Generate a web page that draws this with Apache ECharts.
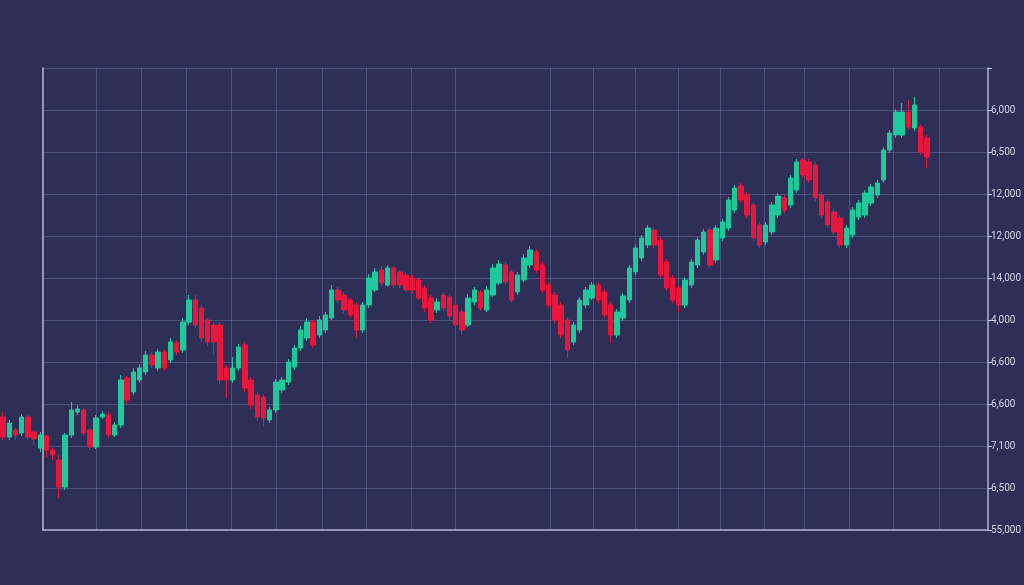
<!DOCTYPE html>
<html><head><meta charset="utf-8">
<script src="https://cdn.jsdelivr.net/npm/echarts@6/dist/echarts.min.js"></script>
<style>html,body{margin:0;padding:0;background:#2d2f56;}#c{width:1024px;height:585px;}</style>
</head><body><div id="c"></div>
<script>
const categories = Array.from({length: 160}, (_, i) => 'D' + (i + 1));

const openVals = [
  113, 93, 100, 97, 113, 98, 82, 94, 80, 70,
  43, 95, 118, 120, 100, 83, 113, 115, 95, 105,
  152, 138, 150, 158, 175, 162, 178, 170, 187, 180,
  208, 230, 222, 210, 205, 205, 162, 150, 162, 185,
  150, 135, 133, 110, 120, 140, 148, 163, 182, 192,
  208, 195, 200, 212, 240, 235, 230, 225, 200, 225,
  240, 260, 245, 262, 258, 255, 252, 250, 242, 232,
  220, 235, 233, 225, 218, 205, 228, 238, 220, 235,
  247, 265, 258, 238, 250, 265, 278, 265, 245, 235,
  225, 210, 188, 200, 225, 232, 245, 238, 225, 195,
  212, 230, 258, 272, 285, 300, 290, 268, 252, 242,
  225, 245, 265, 278, 300, 270, 292, 302, 320, 344,
  335, 325, 305, 288, 298, 315, 332, 325, 340, 370,
  368, 365, 335, 328, 318, 312, 285, 295, 313, 315,
  327, 335, 350, 380, 395, 395, 418, 402, 403, 392
];
const closeVals = [
  93, 107, 95, 113, 93, 91, 95, 80, 75, 43,
  95, 120, 121, 97, 83, 112, 116, 95, 105, 150,
  130, 158, 162, 175, 165, 178, 162, 188, 178, 208,
  230, 205, 192, 188, 188, 150, 150, 162, 183, 142,
  125, 113, 112, 120, 148, 150, 168, 182, 200, 208,
  185, 210, 215, 240, 230, 220, 215, 200, 225, 252,
  258, 247, 262, 245, 245, 240, 240, 232, 222, 210,
  228, 222, 214, 205, 200, 232, 240, 222, 240, 262,
  266, 248, 230, 255, 272, 280, 260, 240, 225, 210,
  195, 180, 205, 230, 240, 245, 230, 215, 195, 218,
  234, 262, 282, 292, 302, 285, 255, 242, 230, 225,
  250, 268, 290, 298, 265, 302, 308, 330, 342, 330,
  315, 292, 285, 305, 325, 334, 320, 352, 368, 355,
  350, 332, 315, 305, 298, 285, 302, 320, 327, 337,
  343, 347, 380, 397, 418, 418, 403, 425, 378, 373
];
const lowVals = [
  90, 90, 90, 94, 90, 85, 78, 73, 70, 32,
  40, 92, 115, 94, 80, 81, 111, 92, 93, 102,
  126, 135, 147, 155, 162, 159, 159, 167, 175, 177,
  205, 202, 188, 184, 175, 146, 132, 147, 159, 138,
  121, 109, 103, 107, 117, 137, 145, 160, 179, 189,
  182, 192, 197, 210, 227, 217, 212, 192, 197, 222,
  238, 244, 243, 242, 242, 238, 237, 230, 218, 207,
  217, 219, 210, 202, 195, 203, 225, 219, 218, 233,
  245, 245, 227, 235, 248, 262, 257, 237, 222, 207,
  192, 172, 185, 197, 222, 230, 227, 212, 187, 192,
  209, 227, 255, 269, 282, 282, 252, 239, 227, 218,
  222, 242, 262, 275, 262, 267, 289, 299, 317, 327,
  312, 289, 282, 285, 295, 312, 317, 322, 337, 352,
  347, 329, 312, 302, 295, 282, 282, 292, 310, 312,
  324, 332, 347, 377, 392, 392, 400, 399, 375, 362
];
const highVals = [
  118, 110, 102, 116, 115, 100, 98, 96, 82, 75,
  97, 128, 125, 122, 102, 115, 119, 118, 108, 155,
  154, 162, 166, 179, 178, 181, 180, 192, 190, 212,
  235, 235, 225, 212, 208, 208, 165, 173, 186, 188,
  153, 138, 136, 123, 151, 153, 171, 185, 204, 212,
  210, 214, 218, 245, 243, 238, 232, 228, 228, 256,
  262, 264, 265, 264, 260, 258, 255, 252, 245, 235,
  232, 238, 236, 228, 221, 236, 243, 240, 244, 266,
  270, 268, 260, 258, 276, 284, 281, 268, 248, 238,
  228, 213, 208, 233, 243, 248, 248, 241, 228, 221,
  237, 265, 285, 295, 305, 303, 293, 271, 255, 245,
  253, 271, 293, 301, 303, 305, 311, 333, 345, 347,
  338, 328, 308, 308, 328, 337, 335, 355, 371, 372,
  371, 368, 338, 331, 321, 315, 305, 323, 330, 340,
  346, 350, 383, 400, 421, 427, 430, 433, 406, 395
];

// right-axis tick labels, bottom to top
const yTickLabels = ['55,000', '6,500', '7,100', '6,600', '6,600', '4,000', '14,000', '12,000', '12,000', '6,500', '6,000', ''];

// vertical grid line positions (helper axis units)
const vGridPos = [96, 142, 187, 232, 277, 323, 368, 413, 457, 552, 596, 638, 681, 723, 767, 808, 853, 897, 943];

const candleData = openVals.map((o, i) => [o, closeVals[i], lowVals[i], highVals[i]]);

const gridLineColor = 'rgba(150,152,205,0.33)';
const axisLineColor = '#aeb0d6';

const chart = echarts.init(document.getElementById('c'), null, {renderer: 'canvas'});
chart.setOption({
  backgroundColor: '#2d2f56',
  animation: false,
  grid: [
    {left: 43, right: 32, top: 68, bottom: 55},
    {left: 0, right: 32, top: 68, bottom: 55}
  ],
  xAxis: [
    {
      type: 'value', gridIndex: 0, min: 43, max: 992,
      axisLine: {show: true, onZero: false, lineStyle: {color: axisLineColor, width: 1.5}},
      axisTick: {show: false, customValues: vGridPos},
      axisLabel: {show: false, customValues: vGridPos},
      splitLine: {show: true, lineStyle: {color: gridLineColor, width: 1}}
    },
    {type: 'category', gridIndex: 1, data: categories, boundaryGap: true, show: false}
  ],
  yAxis: [
    {
      type: 'value', gridIndex: 0, position: 'right', min: 0, max: 462, interval: 42,
      axisLine: {show: true, lineStyle: {color: axisLineColor, width: 1.5}},
      axisTick: {show: true, length: 4, lineStyle: {color: '#c8cae2'}},
      axisLabel: {
        margin: 3, color: '#d4d6e6', fontSize: 10, fontFamily: 'Roboto',
        formatter: v => yTickLabels[Math.round(v / 42)]
      },
      splitLine: {show: true, lineStyle: {color: gridLineColor, width: 1}}
    },
    {
      type: 'value', gridIndex: 0, position: 'left', min: 0, max: 462,
      axisLine: {show: true, lineStyle: {color: '#b8bade', width: 1.5}},
      axisTick: {show: false}, axisLabel: {show: false}, splitLine: {show: false}
    },
    {type: 'value', gridIndex: 1, min: 0, max: 462, show: false, splitLine: {show: false}}
  ],
  series: [{
    type: 'candlestick', xAxisIndex: 1, yAxisIndex: 2,
    data: candleData, barWidth: 5,
    itemStyle: {
      color: '#1fc99b', color0: '#e8163c',
      borderColor: '#1fc99b', borderColor0: '#e8163c', borderWidth: 1
    }
  }]
});
</script></body></html>
